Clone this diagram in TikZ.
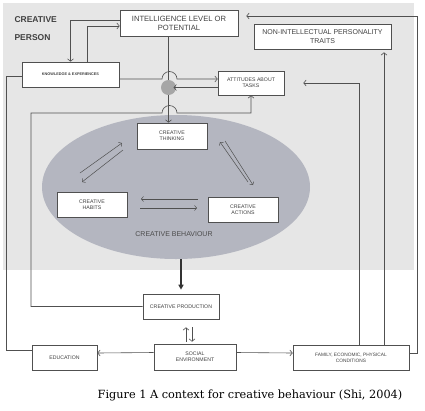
\documentclass[tikz,border=0pt]{standalone}
\usepackage{fontspec}
\setsansfont{Liberation Sans}
\newfontfamily\capfont{DejaVu Serif}
\usetikzlibrary{positioning,arrows.meta,shapes.geometric,calc}
\definecolor{personbg}{RGB}{230,230,230}
\definecolor{behfill}{RGB}{180,182,192}
\definecolor{linegray}{RGB}{80,80,80}

\begin{document}
\begin{tikzpicture}[x=1pt, y=-1pt,
  box/.style={draw=linegray, fill=white, line width=0.6pt, align=center,
              inner sep=0pt, text=black!75,
              font=\sffamily\fontsize{5.2}{6.2}\selectfont},
  bigbox/.style={box, font=\sffamily\fontsize{7.6}{9}\selectfont},
  arr/.style={-{Straight Barb[length=2.5pt, width=6pt]}, linegray, line width=0.6pt},
  inarr/.style={-{Straight Barb[length=2.2pt, width=5pt]}, linegray, line width=0.5pt},
  line/.style={linegray, line width=0.6pt},
  thickarr/.style={-{Triangle[length=5pt, width=5pt]}, black!80, line width=1.6pt}
]
  \useasboundingbox (0,0) rectangle (425,410);
  % creative person area
  \fill[personbg] (3,3) rectangle (414,270);
  \node[anchor=west, align=left, text=black!75,
        font=\sffamily\bfseries\fontsize{8.5}{18}\selectfont] (person) at (11,29) {CREATIVE\\PERSON};

  \node[ellipse, fill=behfill, minimum width=268pt, minimum height=144pt] (beh) at (176,187) {};
  \node[text=black!70, font=\sffamily\fontsize{7}{8}\selectfont] (behlabel) at (174,234) {CREATIVE BEHAVIOUR};

  % boxes
  \node[bigbox, minimum width=118pt, minimum height=26pt] (intel) at (179,23) {INTELLIGENCE LEVEL OR\\POTENTIAL};
  \node[box, font=\sffamily\fontsize{7}{8.5}\selectfont,
        minimum width=137pt, minimum height=25pt] (nonint) at (322.5,36.5) {NON-INTELLECTUAL PERSONALITY\\TRAITS};
  \node[box, font=\sffamily\bfseries\fontsize{3.8}{5}\selectfont,
        minimum width=97pt, minimum height=25pt] (know) at (70.5,74.5) {KNOWLEDGE \& EXPERIENCES};
  \node[box, minimum width=66pt, minimum height=24pt] (att) at (251,83) {ATTITUDES ABOUT\\TASKS};
  \node[circle, fill=black!35, minimum size=15pt, inner sep=0pt] (circ) at (168.5,87.5) {};

  \node[box, minimum width=70pt, minimum height=26pt] (think) at (172,136) {CREATIVE\\THINKING};
  \node[box, minimum width=70pt, minimum height=25pt] (habits) at (92,204.5) {CREATIVE\\HABITS};
  \node[box, minimum width=70pt, minimum height=25pt] (actions) at (243,209.5) {CREATIVE\\ACTIONS};

  \node[box, minimum width=76pt, minimum height=25pt] (prod) at (181,306.5) {CREATIVE PRODUCTION};
  \node[box, minimum width=82pt, minimum height=26pt] (social) at (195,357) {SOCIAL\\ENVIRONMENT};
  \node[box, minimum width=65pt, minimum height=25pt] (edu) at (64.5,357.5) {EDUCATION};
  \node[box, font=\sffamily\fontsize{4.8}{6}\selectfont,
        minimum width=116pt, minimum height=25pt] (family) at (351,357.5) {FAMILY, ECONOMIC, PHYSICAL\\CONDITIONS};

  % knowledge <-> intelligence
  \draw[arr] ([yshift=3pt]intel.west) -| (know.north);
  \draw[arr] ([xshift=16.5pt]know.north) |- ([yshift=-3pt]intel.west);

  % hops over the vertical line
  \coordinate (hopA) at (169.5,79);
  \coordinate (hopB) at (169.5,113);
  \coordinate (leftup) at (31,113);
  \draw[line] (circ.north |- intel.south) -- (circ.north);
  \draw[arr] ([yshift=-4.5pt]know.east) -- ([xshift=-7.5pt]hopA)
    arc[start angle=180, end angle=0, radius=7.5pt] -- (att.west |- hopA);
  \draw[arr, shorten >=5pt] ([yshift=-4.5pt]att.west) -- (circ.center);
  \draw[arr] (circ.south) -- (circ.south |- think.north);
  \draw[arr] (prod.west) -| (leftup) -- ([xshift=-7.5pt]hopB)
    arc[start angle=180, end angle=0, radius=7.5pt] -- (att.south |- hopB) -- (att.south);

  % education -> knowledge
  \draw[line] ([yshift=7.5pt]edu.west) -- ++(-25pt,0) |- ([yshift=-1.5pt]know.west);

  % inside creative behaviour
  \coordinate (tha) at (80,173);  \coordinate (thb) at (122,143);
  \coordinate (thc) at (123,150); \coordinate (thd) at (82,182);
  \coordinate (taa) at (248,182); \coordinate (tab) at (220,142);
  \coordinate (tac) at (225,141); \coordinate (tad) at (253,185);
  \coordinate (haa) at (198,199); \coordinate (hab) at (141,199);
  \coordinate (hac) at (140,208); \coordinate (had) at (197,208);
  \draw[inarr] (tha) -- (thb);
  \draw[inarr] (thc) -- (thd);
  \draw[inarr] (taa) -- (tab);
  \draw[inarr] (tac) -- (tad);
  \draw[inarr] (haa) -- (hab);
  \draw[inarr] (hac) -- (had);

  \draw[thickarr, shorten >=4pt] (prod.north |- beh.south) -- (prod.north);

  % production <-> social
  \draw[arr, shorten <=2pt, shorten >=8pt] ([xshift=5pt]prod.south |- social.north) -- ([xshift=5pt]prod.south);
  \draw[arr, shorten <=8pt, shorten >=2pt] ([xshift=11pt]prod.south) -- ([xshift=11pt]prod.south |- social.north);

  \draw[arr] ([yshift=4.5pt]social.west) -- ([yshift=4.5pt]edu.east);
  \draw[arr] ([yshift=4.5pt]social.east) -- ([yshift=4.5pt]family.west);

  % family conditions back up
  \draw[arr, shorten >=19pt] ([xshift=8pt]family.north) |- (att.east);
  \draw[arr, shorten >=3pt] ([xshift=33pt]family.north) -- ([xshift=33pt]family.north |- nonint.south);
  \draw[arr, shorten >=8pt] ([yshift=4.5pt]family.east) -- ++(8pt,0) |- ([yshift=7pt]intel.east);

  \node[font=\capfont\fontsize{11.3}{13}\selectfont] (caption) at (250,395)
    {Figure 1 A context for creative behaviour (Shi, 2004)};
\end{tikzpicture}
\end{document}
